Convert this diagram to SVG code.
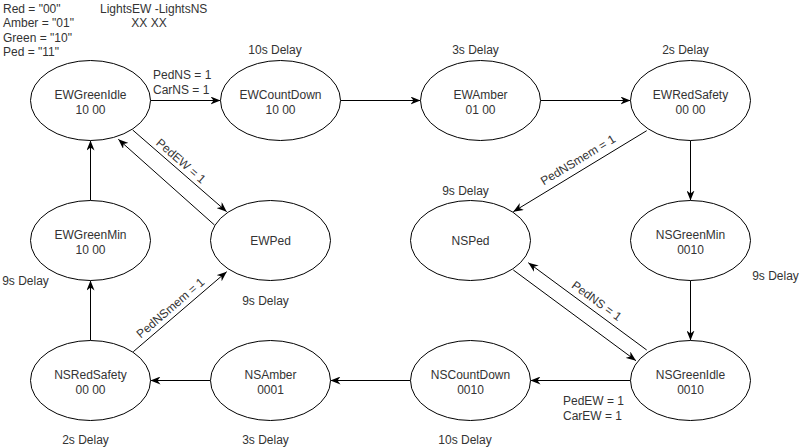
<svg xmlns="http://www.w3.org/2000/svg" width="811" height="447" viewBox="0 0 811 447">
<style>
text{font-family:"Liberation Sans",Arial,sans-serif;font-size:12px;fill:#333333}
.node ellipse{fill:#ffffff;stroke:#000000;stroke-width:1}
.node text{text-anchor:middle}
.mid{text-anchor:middle}
#edges line{stroke:#000000;stroke-width:1;fill:none;marker-end:url(#arr)}
</style>
<defs>
<marker id="arr" viewBox="0 0 10 8" refX="10" refY="4" markerWidth="10" markerHeight="8" markerUnits="userSpaceOnUse" orient="auto">
<path d="M0,0 L10,4 L0,8 L3,4 Z" fill="#000000"/>
</marker>
</defs>
<rect width="811" height="447" fill="#ffffff"/>

<g id="legend">
<text x="3" y="12.5">Red = "00"</text>
<text x="3" y="27">Amber = "01"</text>
<text x="3" y="41.5">Green = "10"</text>
<text x="3" y="56">Ped = "11"</text>
<text x="100" y="12.5">LightsEW -LightsNS</text>
<text x="149" y="27" class="mid">XX XX</text>
</g>

<g id="edges">
<line x1="150.5" y1="100.5" x2="220.5" y2="100.5"/>
<line x1="340.5" y1="100.5" x2="420.5" y2="100.5"/>
<line x1="540.5" y1="100.5" x2="630.5" y2="100.5"/>
<line x1="690.5" y1="140.5" x2="690.5" y2="200.5"/>
<line x1="690.5" y1="280.5" x2="690.5" y2="340.5"/>
<line x1="630.5" y1="380.5" x2="530.5" y2="380.5"/>
<line x1="410.5" y1="380.5" x2="330.5" y2="380.5"/>
<line x1="210.5" y1="380.5" x2="150.5" y2="380.5"/>
<line x1="90.5" y1="340.5" x2="90.5" y2="280.5"/>
<line x1="90.5" y1="200.5" x2="90.5" y2="140.5"/>
<line x1="646.7" y1="130.7" x2="513.3" y2="211.7"/>
<line x1="133.3" y1="351.7" x2="226.7" y2="271.7"/>
<line x1="132.7" y1="130" x2="226.7" y2="211.7"/>
<line x1="214.5" y1="225" x2="118.3" y2="139.3"/>
<line x1="513.3" y1="270" x2="636" y2="360.7"/>
<line x1="646.7" y1="350" x2="528.3" y2="262.7"/>
</g>

<g id="edge-labels">
<text x="153" y="79">PedNS = 1</text>
<text x="153" y="94">CarNS = 1</text>
<text x="563" y="405">PedEW = 1</text>
<text x="563" y="419.5">CarEW = 1</text>
<text class="mid" transform="translate(578,160) rotate(-31.3)" y="4">PedNSmem = 1</text>
<text class="mid" transform="translate(170.5,308) rotate(-40.6)" y="4">PedNSmem = 1</text>
<text class="mid" transform="translate(181,161) rotate(41)" y="4">PedEW = 1</text>
<text class="mid" transform="translate(596.7,301) rotate(36.4)" y="4">PedNS = 1</text>
</g>

<g id="delays">
<text class="mid" x="275" y="54">10s Delay</text>
<text class="mid" x="475.5" y="54">3s Delay</text>
<text class="mid" x="685.5" y="54">2s Delay</text>
<text class="mid" x="465.5" y="195">9s Delay</text>
<text class="mid" x="775.5" y="280">9s Delay</text>
<text class="mid" x="265.5" y="305">9s Delay</text>
<text class="mid" x="25.5" y="285">9s Delay</text>
<text class="mid" x="85.5" y="444">2s Delay</text>
<text class="mid" x="265.5" y="444">3s Delay</text>
<text class="mid" x="465" y="444">10s Delay</text>
</g>

<g id="EWGreenIdle" class="node"><ellipse cx="90.5" cy="100.5" rx="60" ry="40"/><text x="90.5" y="99">EWGreenIdle</text><text x="90.5" y="113.5">10 00</text></g>
<g id="EWCountDown" class="node"><ellipse cx="280.5" cy="100.5" rx="60" ry="40"/><text x="280.5" y="99">EWCountDown</text><text x="280.5" y="113.5">10 00</text></g>
<g id="EWAmber" class="node"><ellipse cx="480.5" cy="100.5" rx="60" ry="40"/><text x="480.5" y="99">EWAmber</text><text x="480.5" y="113.5">01 00</text></g>
<g id="EWRedSafety" class="node"><ellipse cx="690.5" cy="100.5" rx="60" ry="40"/><text x="690.5" y="99">EWRedSafety</text><text x="690.5" y="113.5">00 00</text></g>
<g id="EWGreenMin" class="node"><ellipse cx="90.5" cy="240.5" rx="60" ry="40"/><text x="90.5" y="239">EWGreenMin</text><text x="90.5" y="253.5">10 00</text></g>
<g id="EWPed" class="node"><ellipse cx="270.5" cy="240.5" rx="60" ry="40"/><text x="270.5" y="245">EWPed</text></g>
<g id="NSPed" class="node"><ellipse cx="470.5" cy="240.5" rx="60" ry="40"/><text x="470.5" y="245">NSPed</text></g>
<g id="NSGreenMin" class="node"><ellipse cx="690.5" cy="240.5" rx="60" ry="40"/><text x="690.5" y="239">NSGreenMin</text><text x="690.5" y="253.5">0010</text></g>
<g id="NSRedSafety" class="node"><ellipse cx="90.5" cy="380.5" rx="60" ry="40"/><text x="90.5" y="379">NSRedSafety</text><text x="90.5" y="393.5">00 00</text></g>
<g id="NSAmber" class="node"><ellipse cx="270.5" cy="380.5" rx="60" ry="40"/><text x="270.5" y="379">NSAmber</text><text x="270.5" y="393.5">0001</text></g>
<g id="NSCountDown" class="node"><ellipse cx="470.5" cy="380.5" rx="60" ry="40"/><text x="470.5" y="379">NSCountDown</text><text x="470.5" y="393.5">0010</text></g>
<g id="NSGreenIdle" class="node"><ellipse cx="690.5" cy="380.5" rx="60" ry="40"/><text x="690.5" y="379">NSGreenIdle</text><text x="690.5" y="393.5">0010</text></g>
</svg>
